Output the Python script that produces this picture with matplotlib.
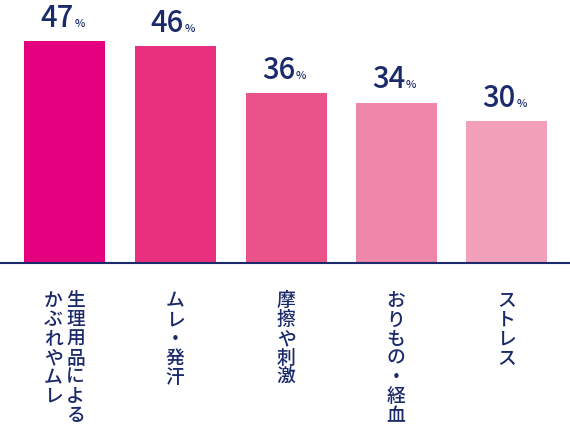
import matplotlib.pyplot as plt

plt.rcParams['font.family'] = ['Noto Sans CJK JP', 'DejaVu Sans']

values = [47, 46, 36, 34, 30]
labels = [["生理用品による", "かぶれやムレ"], ["ムレ・発汗"], ["摩擦や刺激"], ["おりもの・経血"], ["ストレス"]]
colors = ["#e4007f", "#e8307f", "#ea528a", "#ee87a9", "#f29fba"]
navy = "#1b2a6b"

centers = [64.5, 175, 286, 396, 506.5]
px = 4.72  # pixels per percent

fig = plt.figure(figsize=(5.7, 4.46), dpi=100)
ax = fig.add_axes([0, 0, 1, 1])
ax.set_xlim(0, 570)
ax.set_ylim(-183 / px, (446 - 183) / px)
ax.axis('off')

ax.bar(centers, values, width=81, color=colors)
ax.axhline(0, color=navy, lw=1.5)

for x, v, lab in zip(centers, values, labels):
    ax.text(x + 9, v + 3.0, str(v), ha='right', va='baseline', fontsize=21,
            fontweight='medium', color=navy)
    ax.text(x + 10, v + 3.0, "%", ha='left', va='baseline', fontsize=8,
            fontweight='medium', color=navy)
    ncol = len(lab)
    for ci, col in enumerate(lab):
        cx = x + (ncol - 1) * 11 - ci * 22
        for k, ch in enumerate(col):
            ax.text(cx, -6 - k * 4.05, ch, ha='center', va='top', fontsize=13.5,
                    fontweight='medium', color=navy)

fig.savefig("out.png", dpi=100, facecolor='white')
